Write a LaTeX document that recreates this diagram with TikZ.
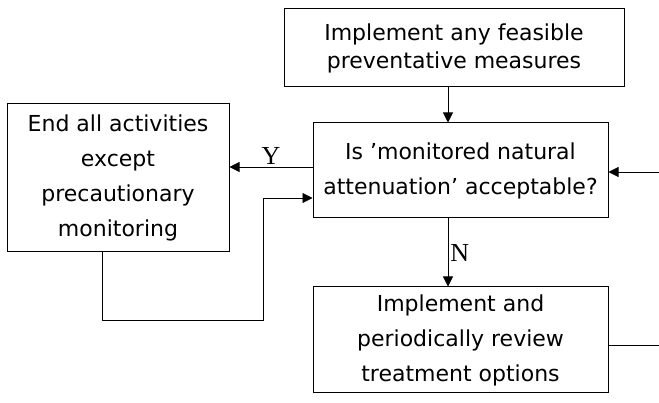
\documentclass[tikz,border=0pt]{standalone}
\usepackage{fontspec}
\setmainfont{DejaVu Sans}
\newfontfamily\answerfont{Liberation Serif}
\usetikzlibrary{arrows.meta}

\begin{document}
\begin{tikzpicture}[x=1pt, y=-1pt,
    stagebox/.style={draw, line width=1pt, align=center, inner sep=0pt,
        font=\fontsize{22}{35}\selectfont},
    flow/.style={-{Triangle[length=10pt, width=10pt]}, line width=0.8pt},
    answer/.style={font=\answerfont\fontsize{26}{28}\selectfont, inner sep=2pt}]

    \useasboundingbox (0,0) rectangle (659,403);

    %% Decision flow

    % Stages
    \node[stagebox, minimum width=340, minimum height=78,
          font=\fontsize{22}{28}\selectfont] (prevent) at (454,48)
        {Implement any feasible\\preventative measures};
    \node[stagebox, minimum width=295, minimum height=95] (attenuation) at (460.5,170.5)
        {Is 'monitored natural\\attenuation' acceptable?};
    \node[stagebox, minimum width=222, minimum height=148] (endall) at (118,178)
        {End all activities\\except\\precautionary\\monitoring};
    \node[stagebox, minimum width=295, minimum height=106] (treatment) at (460.5,340)
        {Implement and\\periodically review\\treatment options};

    % Helper points
    \coordinate (mainx) at (448,0);
    \coordinate (yesrow) at (0,167);
    \coordinate (loopdown) at (102,320);
    \coordinate (loopup) at (263,198);
    \coordinate (inright) at (659,172);
    \coordinate (outright) at (659,345);

    % Main line
    \draw[flow] (prevent.south -| mainx) -- (attenuation.north -| mainx);
    \draw[flow] (attenuation.south -| mainx) -- (treatment.north -| mainx)
        node[answer, midway, right] {N};

    % Yes branch and return
    \draw[flow] (attenuation.west |- yesrow) -- (endall.east |- yesrow)
        node[answer, midway, above] {Y};
    \draw[flow] (endall.south -| loopdown) -- (loopdown) -| (loopup)
        -- (attenuation.west |- loopup);

    % Off-page links
    \draw[flow] (inright) -- (attenuation.east |- inright);
    \draw[line width=0.8pt] (treatment.east |- outright) -- (outright);

\end{tikzpicture}
\end{document}
